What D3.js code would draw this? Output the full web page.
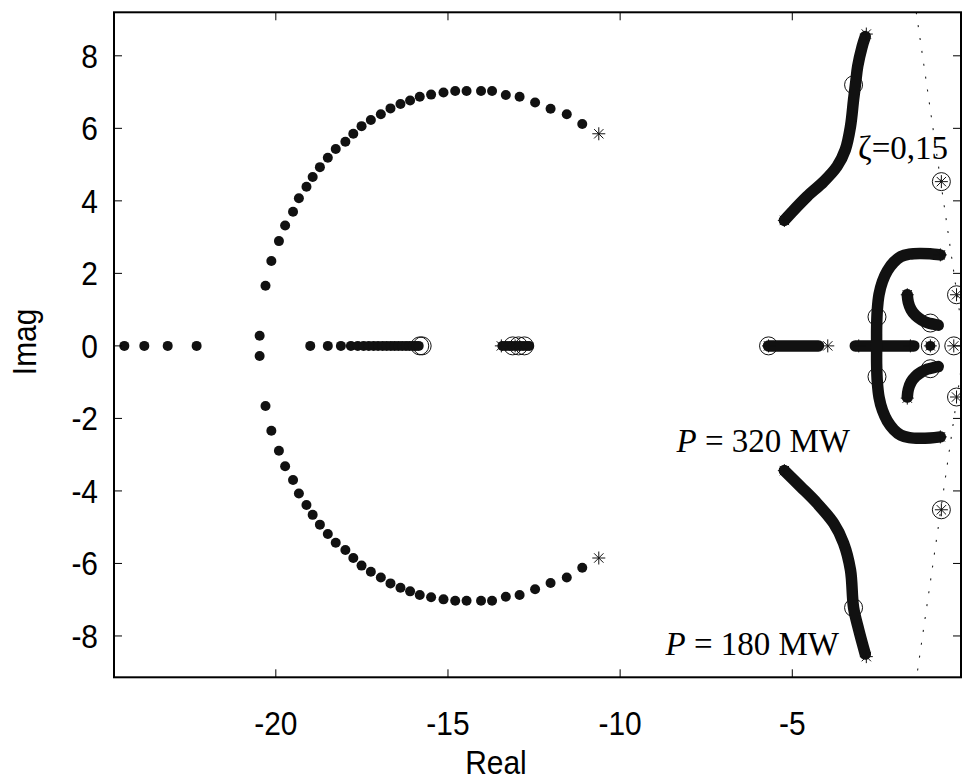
<!DOCTYPE html>
<html><head><meta charset="utf-8">
<script src="https://cdn.jsdelivr.net/npm/d3@7"></script>
<style>body{margin:0;background:#fff}</style>
</head><body>
<svg id="c" width="962" height="783"></svg>
<script>
// ---------- data ----------
const xTicks = [-20, -15, -10, -5];
const yTicks = [-8, -6, -4, -2, 0, 2, 4, 6, 8];
const xDomain = [-24.7, -0.1];
const yDomain = [-9.14, 9.2];

// sparse left locus, upper half (lower half is the complex conjugate)
const arcUpper = [[-20.47,0.28],[-20.30,1.66],[-20.13,2.34],[-19.91,2.89],[-19.73,3.32],[-19.50,3.70],[-19.33,4.07],[-19.11,4.39],[-18.93,4.66],[-18.72,4.93],[-18.49,5.19],[-18.26,5.43],[-17.98,5.63],[-17.75,5.85],[-17.51,6.06],[-17.24,6.23],[-16.95,6.39],[-16.67,6.55],[-16.38,6.67],[-16.10,6.77],[-15.82,6.87],[-15.49,6.93],[-15.13,6.99],[-14.79,7.03],[-14.46,7.03],[-14.04,7.03],[-13.72,7.03],[-13.32,6.92],[-12.92,6.87],[-12.47,6.71],[-12.02,6.54],[-11.55,6.39],[-11.10,6.12]];
// real-axis dots
const axisDots = [-24.40,-23.82,-23.14,-22.30,-19.00,-18.49,-18.11,-17.82,-17.62,-17.45,-17.30,-17.16,-17.03,-16.90,-16.78,-16.66,-16.55,-16.44,-16.33,-16.22,-16.12,-16.02,-15.93,-15.85,
  -13.42,-13.32,-13.22,-13.12,-13.02,-12.92,-12.82,-12.72,-12.64];
// dense loci (drawn as thick traces)
const branchUp = [[-5.23,3.46],[-5.00,3.70],[-4.57,4.12],[-4.09,4.53],[-3.70,4.95],[-3.46,5.41],[-3.31,6.05],[-3.22,6.79],[-3.16,7.25],[-3.10,7.71],[-2.97,8.26],[-2.88,8.53]];
const branchDown = [[-5.23,-3.44],[-4.76,-3.88],[-4.28,-4.34],[-3.80,-4.89],[-3.51,-5.44],[-3.31,-6.18],[-3.22,-7.22],[-3.07,-7.83],[-2.88,-8.50]];
const axisSegA = [[-5.69,0],[-4.24,0]];
const axisSegB = [[-3.17,0],[-1.47,0]];
const cUpper = [[-0.70,2.51],[-1.00,2.54],[-1.30,2.55],[-1.60,2.53],[-1.85,2.46],[-2.05,2.31],[-2.24,2.07],[-2.38,1.78],[-2.48,1.42],[-2.53,1.00],[-2.55,0.50],[-2.55,0]];
const smallArcUpper = [[-1.66,1.41],[-1.63,1.20],[-1.55,1.00],[-1.42,0.84],[-1.25,0.72],[-1.08,0.64],[-0.90,0.60],[-0.76,0.57]];
const extraDots = [[-0.99,0]];
// markers
const stars = [[-10.62,5.85],[-10.62,-5.85],[-13.45,0],[-13.05,0],[-5.69,0],[-3.97,0],[-3.07,0],[-1.57,0],
  [-5.23,3.46],[-2.85,8.60],[-5.23,-3.44],[-2.85,-8.57],[-0.70,2.51],[-0.70,-2.51],[-1.66,1.41],[-1.66,-1.44],
  [-0.99,0],[-0.31,0],[-0.23,1.41],[-0.23,-1.41],[-0.67,4.53],[-0.67,-4.52]];
const circles = [[-15.82,0],[-15.75,0],[-13.12,0],[-12.95,0],[-12.78,0],[-5.69,0],
  [-3.22,7.20],[-3.22,-7.22],[-2.54,0.80],[-2.54,-0.85],[-0.99,0.63],[-0.99,-0.63],
  [-0.99,0],[-0.31,0],[-0.23,1.41],[-0.23,-1.41],[-0.67,4.53],[-0.67,-4.52]];
// zeta = 0.15 damping line
const zetaLine = [[-1.40,9.2],[0,0],[-1.39,-9.14]];

// ---------- drawing ----------
const svg = d3.select('#c');
const L = 114, R = 961, T = 12.3, B = 677.3;
const x = d3.scaleLinear().domain(xDomain).range([L, R]);
const y = d3.scaleLinear().domain(yDomain).range([B, T]);

svg.append('defs').append('clipPath').attr('id','clip')
  .append('rect').attr('x',L).attr('y',T).attr('width',R-L).attr('height',B-T);
const g = svg.append('g').attr('clip-path','url(#clip)');

// zeta line
g.append('path').datum(zetaLine)
  .attr('d', d3.line().x(d=>x(d[0])).y(d=>y(d[1])))
  .attr('fill','none').attr('stroke','#222').attr('stroke-width',1.1)
  .attr('stroke-dasharray','2,11');

const R0 = 5;
const conj = a => a.map(d=>[d[0],-d[1]]);
// sparse dots
const dots = arcUpper.concat(conj(arcUpper)).concat(axisDots.map(v=>[v,0])).concat(extraDots);
g.selectAll('circle.dot').data(dots).join('circle').attr('class','dot')
  .attr('cx',d=>x(d[0])).attr('cy',d=>y(d[1])).attr('r',R0).attr('fill','#111');

// thick traces
const line = d3.line().x(d=>x(d[0])).y(d=>y(d[1])).curve(d3.curveCatmullRom);
const traces = [branchUp, branchDown, axisSegA, axisSegB,
  cUpper.concat(conj(cUpper).reverse().slice(1)), smallArcUpper, conj(smallArcUpper)];
g.selectAll('path.trace').data(traces).join('path').attr('class','trace')
  .attr('d', line).attr('fill','none').attr('stroke','#111')
  .attr('stroke-width', 2*R0+1.5).attr('stroke-linecap','round').attr('stroke-linejoin','round');

// open circles
g.selectAll('circle.o').data(circles).join('circle').attr('class','o')
  .attr('cx',d=>x(d[0])).attr('cy',d=>y(d[1])).attr('r',9)
  .attr('fill','none').attr('stroke','#111').attr('stroke-width',1);

// stars
const s = 6.5, sd = s*0.72;
const starPath = `M${-s},0L${s},0M0,${-s}L0,${s}M${-sd},${-sd}L${sd},${sd}M${-sd},${sd}L${sd},${-sd}`;
g.selectAll('path.star').data(stars).join('path').attr('class','star')
  .attr('transform',d=>`translate(${x(d[0])},${y(d[1])})`)
  .attr('d',starPath).attr('stroke','#111').attr('stroke-width',1).attr('fill','none');

// frame + ticks
svg.append('rect').attr('x',L).attr('y',T).attr('width',R-L).attr('height',B-T)
  .attr('fill','none').attr('stroke','#000').attr('stroke-width',2);
const tk = 8;
const ax = svg.append('g').attr('stroke','#000').attr('stroke-width',1);
xTicks.forEach(v=>{
  ax.append('line').attr('x1',x(v)).attr('x2',x(v)).attr('y1',B).attr('y2',B-tk);
  ax.append('line').attr('x1',x(v)).attr('x2',x(v)).attr('y1',T).attr('y2',T+tk);
});
yTicks.forEach(v=>{
  ax.append('line').attr('x1',L).attr('x2',L+tk).attr('y1',y(v)).attr('y2',y(v));
  ax.append('line').attr('x1',R).attr('x2',R-tk).attr('y1',y(v)).attr('y2',y(v));
});

const sans = 'Liberation Sans, Arial, Helvetica, sans-serif';
const FS = 34, SX = 0.88;
svg.append('g').selectAll('text').data(xTicks).join('text')
  .attr('transform',d=>`translate(${x(d)},735) scale(${SX},1)`).attr('text-anchor','middle')
  .attr('font-family',sans).attr('font-size',FS).text(d=>d);
svg.append('g').selectAll('text').data(yTicks).join('text')
  .attr('transform',d=>`translate(98,${y(d)+12}) scale(${SX},1)`).attr('text-anchor','end')
  .attr('font-family',sans).attr('font-size',FS).text(d=>d);
svg.append('text').attr('transform','translate(496,774) scale(0.88,1)').attr('text-anchor','middle')
  .attr('font-family',sans).attr('font-size',FS).text('Real');
svg.append('text').attr('transform',`translate(36,${y(0)-4}) rotate(-90) scale(0.88,1)`).attr('text-anchor','middle')
  .attr('font-family',sans).attr('font-size',FS).text('Imag');

// annotations
const serif = 'Liberation Serif, Times New Roman, serif';
svg.append('text').attr('x',858).attr('y',159).attr('font-family',serif).attr('font-size',33).text('ζ=0,15');
const t1 = svg.append('text').attr('x',850).attr('y',452).attr('text-anchor','end').attr('font-family',serif).attr('font-size',33);
t1.append('tspan').attr('font-style','italic').text('P');
t1.append('tspan').text(' = 320 MW');
const t2 = svg.append('text').attr('x',839).attr('y',655).attr('text-anchor','end').attr('font-family',serif).attr('font-size',33);
t2.append('tspan').attr('font-style','italic').text('P');
t2.append('tspan').text(' = 180 MW');
</script>
</body></html>
